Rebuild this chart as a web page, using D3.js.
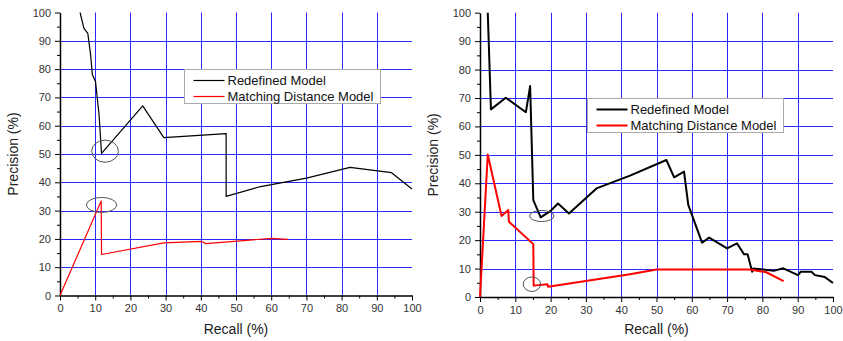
<!DOCTYPE html>
<html>

<head>
    <meta charset="utf-8">
    <style>
        body {
            margin: 0;
            background: #fff;
            font-family: Arial, 'Liberation Sans', sans-serif;
        }

        .tick text {
            font-size: 11px;
            fill: #333;
        }
    </style>
</head>

<body>
    <svg width="843" height="341"></svg>
</body>

<script src="https://d3js.org/d3.v7.min.js"></script>

<script>
    // tick values shared by both panels
    let majorTicks = [0, 10, 20, 30, 40, 50, 60, 70, 80, 90, 100];
    let minorTicks = [5, 15, 25, 35, 45, 55, 65, 75, 85, 95];
    let gridTicks = [10, 20, 30, 40, 50, 60, 70, 80, 90];
    let seriesNames = ["Redefined Model", "Matching Distance Model"];

    // left panel: [recall, precision]
    let leftRedefined = [
        [5.7, 100], [6.8, 94.4], [7.9, 92.6], [8.7, 85], [9.2, 78], [10.1, 75.5],
        [11.1, 63.8], [11.8, 50.2], [23.5, 67], [29.5, 55.8], [47.2, 57.2],
        [47.2, 35], [57, 38.5], [70, 41.5], [82.4, 45.3], [94.2, 43.4], [100, 37.6]
    ];
    let leftMatching = [
        [0, 0], [11.7, 33.4], [11.8, 14.5], [29.5, 18.6], [40.2, 19.1],
        [41.2, 18.5], [41.4, 18.3], [60.1, 20.2], [64.8, 19.8]
    ];
    // annotation ellipses: [cx, cy, rx, ry] in data units
    let leftMarks = [[12.8, 51, 3.8, 3.9], [11.8, 32, 4.3, 2.65]];

    // right panel
    let rightRedefined = [
        [2.2, 100], [3.1, 66], [7.3, 70.1], [13, 65], [14.2, 74.2], [15.1, 34.1],
        [17.2, 28], [20.1, 30.4], [22.1, 32.9], [25.2, 29.4], [33, 38.2],
        [42.5, 42.7], [52.8, 48.2], [55, 42.1], [57.8, 44.1], [59, 32.4],
        [62.9, 19.1], [64.9, 20.9], [70, 17.1], [72.8, 18.9], [74.8, 15],
        [75.8, 15], [77.1, 8.9], [77.4, 10], [80.2, 9.7], [83.2, 9.2],
        [85.9, 10.1], [90.1, 7.7], [90.9, 8.9], [93.9, 8.9], [94.9, 7.7],
        [97.7, 7], [100, 4.9]
    ];
    let rightMatching = [
        [0, 0], [2.2, 50.1], [6.1, 28.5], [8, 30.6], [8.2, 26.5], [15.1, 18.6],
        [15.2, 4], [19.1, 4.5], [19.3, 3.6], [42.5, 8], [50, 9.7], [76.4, 9.7],
        [81.1, 8.7], [86, 5.6]
    ];
    let rightMarks = [[17.5, 28.5, 3.45, 1.95], [14.7, 4.5, 2.45, 2.55]];

    let svg = d3.select("svg")

    function drawPanel(p) {
        let x = d3.scaleLinear().domain([0, 100]).range([p.left, p.right])
        let y = d3.scaleLinear().domain([0, 100]).range([p.bottom, p.top])
        let g = svg.append("g")

        // grid
        g.selectAll(".vgrid")
            .data(gridTicks)
            .enter().append("line")
            .attr("x1", d => Math.round(x(d)) + 0.5)
            .attr("x2", d => Math.round(x(d)) + 0.5)
            .attr("y1", y(0))
            .attr("y2", y(100))
            .style("stroke", "#2a2aff")
            .style("stroke-width", 1)

        g.selectAll(".hgrid")
            .data(gridTicks)
            .enter().append("line")
            .attr("x1", x(0))
            .attr("x2", x(100))
            .attr("y1", d => Math.round(y(d)) + 0.5)
            .attr("y2", d => Math.round(y(d)) + 0.5)
            .style("stroke", "#2a2aff")
            .style("stroke-width", 1)

        // axes
        let xAxis = g.append("g")
            .attr("transform", `translate(0,${p.bottom})`)
            .call(d3.axisBottom(x).tickValues(majorTicks).tickSize(5).tickSizeOuter(0).tickPadding(4))
        g.append("g")
            .attr("transform", `translate(0,${p.bottom})`)
            .call(d3.axisBottom(x).tickValues(minorTicks).tickSize(3).tickFormat(""))
            .select(".domain").remove()

        let yAxis = g.append("g")
            .attr("transform", `translate(${p.left},0)`)
            .call(d3.axisLeft(y).tickValues(majorTicks).tickSize(5).tickSizeOuter(0).tickPadding(4))
        g.append("g")
            .attr("transform", `translate(${p.left},0)`)
            .call(d3.axisLeft(y).tickValues(minorTicks).tickSize(3).tickFormat(""))
            .select(".domain").remove()

        g.selectAll(".domain").style("stroke", "#000").style("stroke-width", 1.5)
        g.selectAll(".tick line").style("stroke", "#000")
        g.selectAll(".tick text").style("font-family", "Arial, 'Liberation Sans', sans-serif")

        // axis titles
        g.append("text")
            .attr("x", (p.left + p.right) / 2)
            .attr("y", 334)
            .style("text-anchor", "middle")
            .style("font-size", "14px")
            .style("fill", "#222")
            .text("Recall (%)")

        g.append("text")
            .attr("transform", `translate(${p.left - 42},${(p.top + p.bottom) / 2}) rotate(-90)`)
            .style("text-anchor", "middle")
            .style("font-size", "14px")
            .style("fill", "#222")
            .text("Precision (%)")

        let line = d3.line().x(d => x(d[0])).y(d => y(d[1]))

        g.append("path")
            .datum(p.black)
            .attr("d", line)
            .style("fill", "none")
            .style("stroke", "#000")
            .style("stroke-width", p.lw)
            .style("stroke-linejoin", "round")

        g.append("path")
            .datum(p.red)
            .attr("d", line)
            .style("fill", "none")
            .style("stroke", "#ff0000")
            .style("stroke-width", p.lw)
            .style("stroke-linejoin", "round")

        // ellipses
        g.selectAll(".mark")
            .data(p.marks)
            .enter().append("ellipse")
            .attr("cx", d => x(d[1 - 1]))
            .attr("cy", d => y(d[1]))
            .attr("rx", d => x(d[2]) - x(0))
            .attr("ry", d => y(0) - y(d[3]))
            .style("fill", "none")
            .style("stroke", "#555")
            .style("stroke-width", 1)

        // legend
        let lg = g.append("g").attr("transform", `translate(${p.legX},${p.legY})`)
        lg.append("rect")
            .attr("width", p.legW)
            .attr("height", 34)
            .style("fill", "#fff")
            .style("stroke", "#aaa")
        seriesNames.forEach(function (name, i) {
            lg.append("line")
                .attr("x1", 9)
                .attr("x2", 40)
                .attr("y1", 11 + i * 16)
                .attr("y2", 11 + i * 16)
                .style("stroke", i == 0 ? "#000" : "#ff0000")
                .style("stroke-width", p.lw)
            lg.append("text")
                .attr("x", 43)
                .attr("y", 15.5 + i * 16)
                .style("font-size", "13px")
                .style("fill", "#111")
                .text(name)
        })
    }

    drawPanel({
        left: 60, right: 412, top: 12.5, bottom: 295.5,
        black: leftRedefined, red: leftMatching, marks: leftMarks,
        legX: 184.5, legY: 69.5, legW: 196, lw: 1.2
    })

    drawPanel({
        left: 480, right: 833, top: 12.7, bottom: 297,
        black: rightRedefined, red: rightMatching, marks: rightMarks,
        legX: 587.5, legY: 98.5, legW: 196, lw: 2
    })
</script>

</html>
